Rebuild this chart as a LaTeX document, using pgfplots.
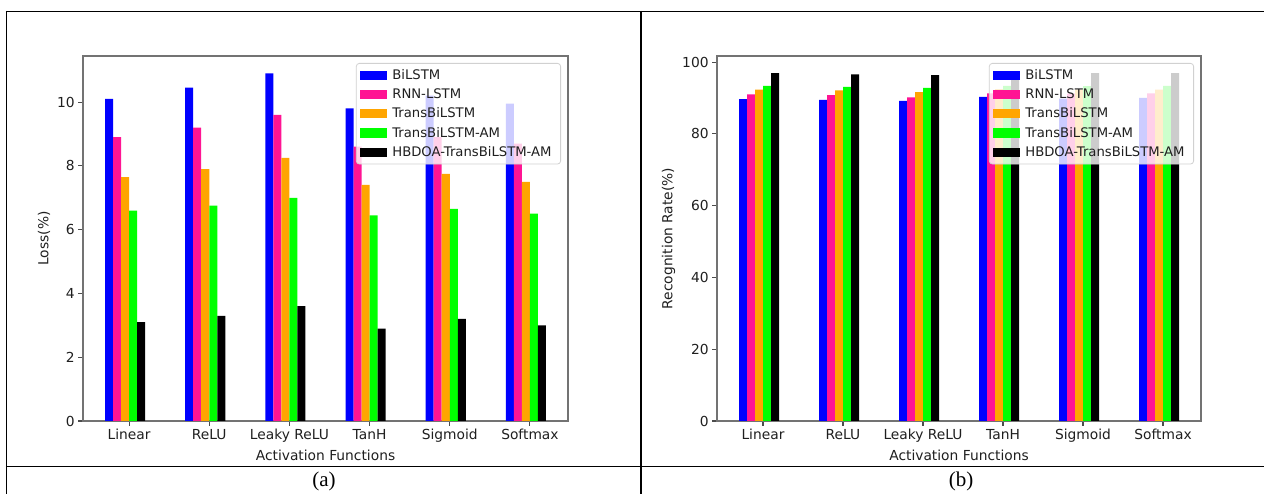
\documentclass[border=0pt]{standalone}
\usepackage{fontspec}
\setmainfont{DejaVu Sans}
\newfontfamily\capfont{Liberation Serif}
\usepackage{pgfplots}
\pgfplotsset{compat=1.18}
\usepackage{pgfplotstable}

\definecolor{cB}{RGB}{0,0,255}
\definecolor{cR}{RGB}{255,20,147}
\definecolor{cT}{RGB}{255,165,0}
\definecolor{cA}{RGB}{0,255,0}
\definecolor{cH}{RGB}{0,0,0}

\pgfplotstableread{
k B R T A H
0 10.10 8.90 7.65 6.60 3.10
1 10.45 9.20 7.90 6.75 3.30
2 10.90 9.60 8.25 7.00 3.60
3 9.80 8.60 7.40 6.45 2.90
4 10.20 8.90 7.75 6.65 3.20
5 9.95 8.70 7.50 6.50 3.00
}\lossdata

\pgfplotstableread{
k B R T A H
0 89.7 91.0 92.3 93.4 96.9
1 89.5 90.8 92.1 93.1 96.6
2 89.2 90.2 91.6 92.8 96.4
3 90.3 91.3 92.5 93.4 95.9
4 89.8 91.2 92.3 93.3 96.9
5 90.0 91.3 92.3 93.4 96.9
}\ratedata

\newcommand{\pf}{\fontsize{13.8}{16}\selectfont}
\newcommand{\lf}{\fontsize{13.2}{15.5}\selectfont}

\pgfplotsset{
  mylegend/.style={legend image code/.code={\fill[##1, sharp corners, fill opacity=1] (-5pt,-4.6pt) rectangle (22pt,4.6pt);}},
  mybar/.style={
    scale only axis, width=485pt, height=365pt,
    anchor=south west,
    ymin=0,
    xmin=-0.575, xmax=5.475,
    xtick={0,...,5},
    xticklabels={Linear,ReLU,Leaky ReLU,TanH,Sigmoid,Softmax},
    xtick pos=lower, ytick pos=left,
    tick align=outside,
    major tick length=4.9pt,
    axis line style={draw=black!55, line width=1.1pt},
    every tick/.style={black!70, line width=1.1pt},
    tick label style={font=\pf, text=black!88},
    label style={font=\pf, text=black!88},
    /pgf/number format/assume math mode=true,
    xlabel={Activation Functions},
    legend style={at={(1,1)}, anchor=north east, xshift=-7pt, yshift=-7pt,
      draw=black!18, line width=0.8pt, rounded corners=3pt, fill=white, fill opacity=0.8, text opacity=1,
      font=\lf, text=black!88, row sep=3.8pt, inner xsep=4pt, inner ysep=4pt,
      nodes={inner xsep=5pt}},
    legend cell align=left,
  },
  b/.style={ybar, bar width=0.1, draw=none, mylegend},
}

\begin{document}
\begin{tikzpicture}[x=1pt,y=1pt]
\path[use as bounding box] (0,0) rectangle (1264,494);

% table rules
\draw[line width=1.4pt] (5.8,482.5) -- (1266,482.5);
\draw[line width=1.4pt] (6.5,483.2) -- (6.5,-2);
\draw[line width=1.4pt] (641,483.2) -- (641,-2);
\draw[line width=1.4pt] (5.8,27.5) -- (1266,27.5);
\node[font=\capfont\fontsize{21}{23}\selectfont] at (324,13) {(a)};
\node[font=\capfont\fontsize{21}{23}\selectfont] at (961,13) {(b)};

\begin{axis}[mybar, at={(83pt,73pt)}, ymax=11.445, ytick={0,2,4,6,8,10}, ylabel={Loss(\%)}]
\addplot[b, fill=cB, bar shift=-0.25] table[x=k,y=B] {\lossdata};
\addplot[b, fill=cR, bar shift=-0.15] table[x=k,y=R] {\lossdata};
\addplot[b, fill=cT, bar shift=-0.05] table[x=k,y=T] {\lossdata};
\addplot[b, fill=cA, bar shift=0.05] table[x=k,y=A] {\lossdata};
\addplot[b, fill=cH, bar shift=0.15] table[x=k,y=H] {\lossdata};
\legend{BiLSTM,RNN-LSTM,TransBiLSTM,TransBiLSTM-AM,HBDOA-TransBiLSTM-AM}
\end{axis}

\begin{axis}[mybar, at={(717pt,73pt)}, width=484pt, ymax=101.7, ytick={0,20,40,60,80,100}, ylabel={Recognition Rate(\%)}]
\addplot[b, fill=cB, bar shift=-0.25] table[x=k,y=B] {\ratedata};
\addplot[b, fill=cR, bar shift=-0.15] table[x=k,y=R] {\ratedata};
\addplot[b, fill=cT, bar shift=-0.05] table[x=k,y=T] {\ratedata};
\addplot[b, fill=cA, bar shift=0.05] table[x=k,y=A] {\ratedata};
\addplot[b, fill=cH, bar shift=0.15] table[x=k,y=H] {\ratedata};
\legend{BiLSTM,RNN-LSTM,TransBiLSTM,TransBiLSTM-AM,HBDOA-TransBiLSTM-AM}
\end{axis}
\end{tikzpicture}
\end{document}
